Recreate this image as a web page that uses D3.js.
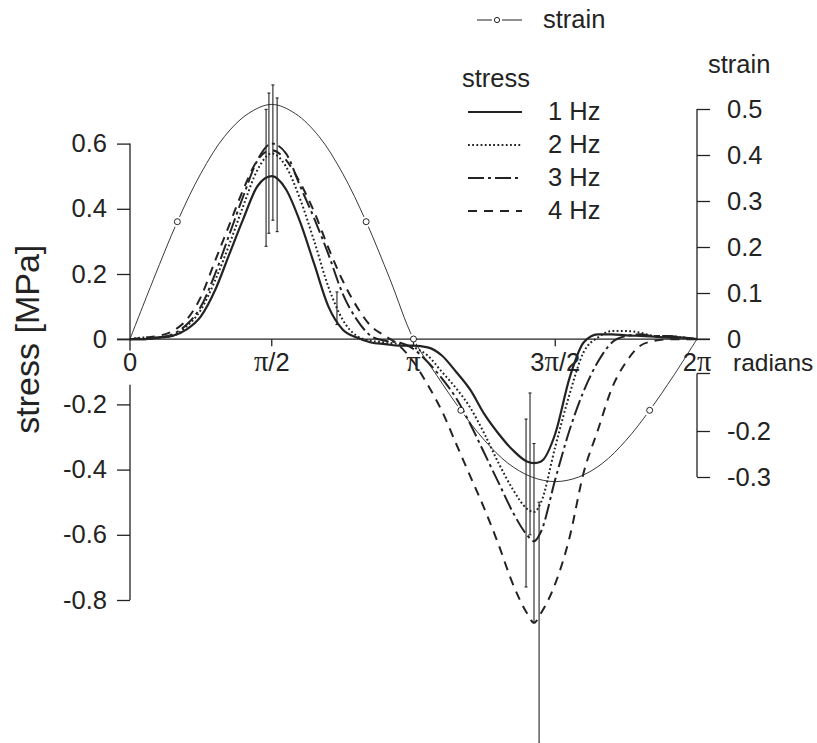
<!DOCTYPE html>
<html>
<head>
<meta charset="utf-8">
<script src="https://cdn.jsdelivr.net/npm/d3@7"></script>
<style>
  body { margin: 0; background: #fff; }
  svg { display: block; font-family: "Liberation Sans", Arial, sans-serif; }
  .pi { font-family: "Liberation Serif", "Times New Roman", serif; }
</style>
</head>
<body>
<div id="chart"></div>
<script>
// phase of the cycle, in units of pi
const theta = [0, 0.05, 0.1, 0.15, 0.2, 0.25, 0.3, 0.35, 0.4, 0.45, 0.5, 0.55, 0.6, 0.65, 0.7, 0.75,
  0.8, 0.85, 0.9, 0.95, 1.0, 1.05, 1.1, 1.15, 1.2, 1.25, 1.3, 1.35, 1.4, 1.425, 1.45, 1.5, 1.55,
  1.6, 1.65, 1.7, 1.75, 1.8, 1.85, 1.9, 1.95, 2.0];

// mean stress [MPa] at each phase
const stress1Hz = [0, 0, 0.005, 0.01, 0.03, 0.07, 0.15, 0.26, 0.37, 0.47, 0.50, 0.46, 0.36, 0.23, 0.10, 0.03,
  0.005, -0.01, -0.015, -0.02, -0.02, -0.025, -0.05, -0.10, -0.155, -0.23, -0.29, -0.34, -0.375, -0.38, -0.375,
  -0.29, -0.12, -0.01, 0.015, 0.015, 0.012, 0.01, 0.008, 0.005, 0.005, 0];
const stress2Hz = [0, 0.005, 0.005, 0.01, 0.04, 0.09, 0.18, 0.29, 0.41, 0.52, 0.57, 0.53, 0.43, 0.30, 0.16, 0.06,
  0.01, -0.005, -0.01, -0.015, -0.025, -0.05, -0.10, -0.15, -0.21, -0.29, -0.38, -0.46, -0.52, -0.53, -0.50,
  -0.33, -0.17, -0.04, 0.005, 0.025, 0.025, 0.02, 0.01, 0.01, 0.005, 0];
const stress3Hz = [0, 0, 0.005, 0.015, 0.045, 0.10, 0.20, 0.32, 0.44, 0.55, 0.60, 0.57, 0.47, 0.37, 0.26, 0.14,
  0.06, 0.01, -0.005, -0.01, -0.03, -0.07, -0.12, -0.18, -0.26, -0.35, -0.44, -0.53, -0.60, -0.62, -0.59,
  -0.43, -0.28, -0.16, -0.07, -0.01, 0.01, 0.015, 0.01, 0.01, 0.005, 0];
const stress4Hz = [0, 0.005, 0.01, 0.025, 0.06, 0.13, 0.24, 0.35, 0.46, 0.55, 0.58, 0.55, 0.48, 0.39, 0.28, 0.18,
  0.10, 0.04, 0.01, -0.02, -0.07, -0.14, -0.22, -0.32, -0.42, -0.52, -0.63, -0.75, -0.84, -0.87, -0.84,
  -0.75, -0.61, -0.41, -0.28, -0.15, -0.07, -0.02, -0.005, 0, 0, 0];

// strain, sampled every pi/12
const strainTheta = [0, 0.083, 0.167, 0.25, 0.333, 0.417, 0.5, 0.583, 0.667, 0.75, 0.833, 0.917, 1.0,
  1.083, 1.167, 1.25, 1.333, 1.417, 1.5, 1.583, 1.667, 1.75, 1.833, 1.917, 2.0];
const strain = [0, 0.13, 0.255, 0.36, 0.44, 0.49, 0.51, 0.49, 0.44, 0.36, 0.255, 0.13, 0,
  -0.08, -0.155, -0.22, -0.27, -0.30, -0.31, -0.30, -0.27, -0.22, -0.155, -0.08, 0];
const strainMarkerIdx = [2, 10, 12, 14, 22];

// standard deviation bars at the peaks
const errTheta = [0.48, 0.49, 0.504, 0.519, 0.73, 1.397, 1.411, 1.425, 1.443];
const errLow = [0.285, 0.325, 0.365, 0.33, 0.045, -0.76, -0.60, -0.87, -1.24];
const errHigh = [0.705, 0.755, 0.78, 0.74, 0.145, -0.245, -0.165, -0.32, -0.50];

const xTicks = [0, 0.5, 1, 1.5, 2];
const xTickLabels = [["0", "", ""], ["", "\u03c0", "/2"], ["", "\u03c0", ""], ["3", "\u03c0", "/2"], ["2", "\u03c0", ""]];
const stressTicks = [-0.8, -0.6, -0.4, -0.2, 0, 0.2, 0.4, 0.6];
const strainTicksUp = [0, 0.1, 0.2, 0.3, 0.4, 0.5];
const strainTicksDown = [-0.2, -0.3];

const freqs = ["1 Hz", "2 Hz", "3 Hz", "4 Hz"];
const series = [stress1Hz, stress2Hz, stress3Hz, stress4Hz];
const dashes = [null, "1.8,2.4", "16,4,3,4", "9,7"];

const width = 817, height = 743;
const ink = "#232323";
const fs = 25.5;

const svg = d3.select("#chart").append("svg")
  .attr("width", width)
  .attr("height", height);

const x = d3.scaleLinear().domain([0, 2]).range([130, 697]);
const y = d3.scaleLinear().domain([-0.8, 0.6]).range([600, 143.6]);
const yS = d3.scaleLinear().domain([-0.3, 0.5]).range([477, 109]);

// strain curve
const strainLine = d3.line()
  .x((d, i) => x(strainTheta[i]))
  .y(d => yS(d))
  .curve(d3.curveCatmullRom);

svg.append("path")
  .datum(strain)
  .attr("fill", "none")
  .attr("stroke", ink)
  .attr("stroke-width", 0.9)
  .attr("d", strainLine);

// white gaps round the markers
svg.selectAll(".halo")
  .data(strainMarkerIdx)
  .join("circle")
    .attr("cx", i => x(strainTheta[i]))
    .attr("cy", i => yS(strain[i]))
    .attr("r", 5.5)
    .attr("fill", "#fff");

// zero line
svg.append("line")
  .attr("x1", x(0) - 13).attr("x2", x(2) + 13)
  .attr("y1", y(0)).attr("y2", y(0))
  .attr("stroke", ink).attr("stroke-width", 1.3);

// x ticks and labels
svg.selectAll(".xtick")
  .data(xTicks.slice(1, 4))
  .join("line")
    .attr("x1", d => x(d)).attr("x2", d => x(d))
    .attr("y1", y(0)).attr("y2", y(0) + 7)
    .attr("stroke", ink).attr("stroke-width", 1.3);

const xLab = svg.selectAll(".xlabel")
  .data(xTicks)
  .join("text")
    .attr("x", d => x(d))
    .attr("y", y(0) + 32)
    .attr("text-anchor", "middle")
    .attr("font-size", fs)
    .attr("fill", ink);
xLab.each(function(d, i) {
  const t = d3.select(this);
  const parts = xTickLabels[i];
  t.append("tspan").text(parts[0]);
  t.append("tspan").attr("class", "pi").attr("font-size", fs + 3).text(parts[1]);
  t.append("tspan").text(parts[2]);
});

svg.append("text")
  .attr("x", x(2) + 36)
  .attr("y", y(0) + 32)
  .attr("font-size", 24.5)
  .attr("fill", ink)
  .text("radians");

// left axis
const gLeft = svg.append("g")
  .attr("transform", "translate(" + x(0) + ",0)")
  .call(d3.axisLeft(y)
    .tickValues(stressTicks)
    .tickSize(13)
    .tickPadding(10)
    .tickFormat(d => d === 0 ? "0" : d.toFixed(1)));
gLeft.select(".domain").remove();
gLeft.selectAll("line").attr("stroke", ink).attr("stroke-width", 1.3);
gLeft.selectAll("text").attr("font-size", fs).attr("fill", ink).attr("font-family", null);

[[0.6, -0.035], [-0.14, -0.8]].forEach(seg => {
  gLeft.append("line")
    .attr("y1", y(seg[0])).attr("y2", y(seg[1]))
    .attr("stroke", ink).attr("stroke-width", 1.3);
});

// right axis (strain)
const gRight = svg.append("g")
  .attr("transform", "translate(" + x(2) + ",0)")
  .call(d3.axisRight(yS)
    .tickValues(strainTicksUp.concat(strainTicksDown))
    .tickSize(13)
    .tickPadding(17)
    .tickFormat(d => d === 0 ? "0" : d.toFixed(1)));
gRight.select(".domain").remove();
gRight.selectAll("line").attr("stroke", ink).attr("stroke-width", 1.3);
gRight.selectAll("text").attr("font-size", fs).attr("fill", ink).attr("font-family", null);

[[0.5, 0], [-0.075, -0.3]].forEach(seg => {
  gRight.append("line")
    .attr("y1", yS(seg[0])).attr("y2", yS(seg[1]))
    .attr("stroke", ink).attr("stroke-width", 1.3);
});
gRight.append("line")
  .attr("x2", 13)
  .attr("y1", yS(-0.075)).attr("y2", yS(-0.075))
  .attr("stroke", ink).attr("stroke-width", 1.3);

gRight.append("text")
  .attr("x", 11)
  .attr("y", 73)
  .attr("font-size", fs)
  .attr("fill", ink)
  .text("strain");

// y axis title
svg.append("text")
  .attr("transform", "translate(39," + y(0) + ") rotate(-90)")
  .attr("text-anchor", "middle")
  .attr("font-size", 34)
  .attr("fill", ink)
  .text("stress [MPa]");

// stress curves
const stressLine = d3.line()
  .x((d, i) => x(theta[i]))
  .y(d => y(d))
  .curve(d3.curveMonotoneX);

svg.selectAll(".stress")
  .data(series)
  .join("path")
    .attr("fill", "none")
    .attr("stroke", ink)
    .attr("stroke-width", (d, i) => i === 0 ? 2.2 : 2)
    .attr("stroke-dasharray", (d, i) => dashes[i])
    .attr("d", stressLine);

// error bars
const bars = svg.append("g")
  .attr("stroke", ink)
  .attr("stroke-width", 1.1);
errTheta.forEach((t, i) => {
  bars.append("line")
    .attr("x1", x(t)).attr("x2", x(t))
    .attr("y1", y(errLow[i])).attr("y2", y(errHigh[i]));
  [errLow[i], errHigh[i]].forEach(v => {
    bars.append("line")
      .attr("x1", x(t) - 1.5).attr("x2", x(t) + 1.5)
      .attr("y1", y(v)).attr("y2", y(v));
  });
});

// strain markers
svg.selectAll(".marker")
  .data(strainMarkerIdx)
  .join("circle")
    .attr("cx", i => x(strainTheta[i]))
    .attr("cy", i => yS(strain[i]))
    .attr("r", 3)
    .attr("fill", "#fff")
    .attr("stroke", ink)
    .attr("stroke-width", 1);

// legend
const legend = svg.append("g").attr("fill", ink).attr("font-size", fs);

legend.append("line")
  .attr("x1", 477).attr("x2", 492).attr("y1", 20).attr("y2", 20)
  .attr("stroke", ink).attr("stroke-width", 1);
legend.append("line")
  .attr("x1", 502).attr("x2", 522).attr("y1", 20).attr("y2", 20)
  .attr("stroke", ink).attr("stroke-width", 1);
legend.append("circle")
  .attr("cx", 497).attr("cy", 20).attr("r", 2.6)
  .attr("fill", "#fff").attr("stroke", ink).attr("stroke-width", 1);
legend.append("text").attr("x", 543).attr("y", 28).text("strain");

legend.append("text").attr("x", 462).attr("y", 87).text("stress");

freqs.forEach((f, i) => {
  const ly = 112 + i * 33;
  legend.append("line")
    .attr("x1", 468).attr("x2", 522)
    .attr("y1", ly).attr("y2", ly)
    .attr("stroke", ink)
    .attr("stroke-width", i === 0 ? 2.2 : 2)
    .attr("stroke-dasharray", dashes[i]);
  legend.append("text")
    .attr("x", 548).attr("y", ly + 8)
    .text(f);
});
</script>
</body>
</html>
